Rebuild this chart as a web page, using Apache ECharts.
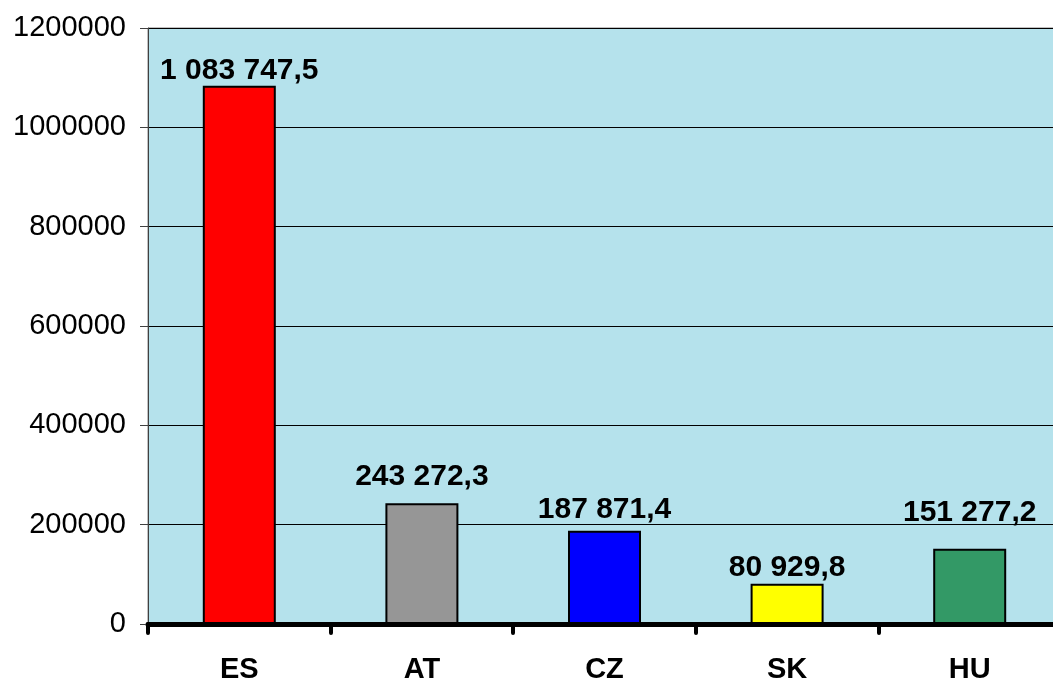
<!DOCTYPE html>
<html>
<head>
<meta charset="utf-8">
<script src="https://cdn.jsdelivr.net/npm/echarts@6/dist/echarts.min.js"></script>
<style>
  html, body { margin: 0; padding: 0; background: #fff; }
  #char { width: 1053px; height: 680px; }
</style>
</head>
<body>
<div id="char"></div>
<script>
var countries = ['ES', 'AT', 'CZ', 'SK', 'HU']
var values = [1083747.5, 243272.3, 187871.4, 80929.8, 151277.2]
var barColors = ['#ff0000', '#969696', '#0000ff', '#ffff00', '#339966']
var yTicks = [0, 200000, 400000, 600000, 800000, 1000000, 1200000]
// labels were placed by hand in the original, so gaps differ a bit
var labelGaps = [0, 11, 6, 1, 21]

// 1 083 747,5 style
function fmt(v) {
  var parts = v.toFixed(1).split('.')
  return parts[0].replace(/\B(?=(\d{3})+(?!\d))/g, ' ') + ',' + parts[1]
}

var myChart = echarts.init(document.getElementById('char'))

var option = {
  animation: false,
  grid: {
    show: true,
    left: 148,
    top: 28,
    width: 913,
    height: 596,
    outerBoundsMode: 'none',
    containLabel: false,
    backgroundColor: '#b5e2ec',
    borderColor: '#808080',
    borderWidth: 1
  },
  xAxis: {
    type: 'category',
    data: countries,
    axisLine: { lineStyle: { color: '#000', width: 5 } },
    axisTick: {
      show: true,
      length: 9,
      lineStyle: { color: '#000', width: 4, cap: 'round' }
    },
    axisLabel: {
      color: '#000',
      fontFamily: 'Liberation Sans, Arial',
      fontWeight: 'bold',
      fontSize: 29,
      margin: 31
    }
  },
  yAxis: {
    type: 'value',
    min: yTicks[0],
    max: yTicks[yTicks.length - 1],
    interval: yTicks[1] - yTicks[0],
    axisLine: { show: true, lineStyle: { color: '#404040', width: 1 } },
    axisTick: { show: true, length: 8, lineStyle: { color: '#404040' } },
    axisLabel: {
      color: '#000',
      fontFamily: 'Liberation Sans, Arial',
      fontSize: 29,
      margin: 22,
      formatter: function (v) { return String(v) }
    },
    splitLine: { show: true, lineStyle: { color: '#000', width: 1 } }
  },
  series: [
    {
      type: 'bar',
      barWidth: 73,
      data: values.map(function (v, i) {
        return {
          value: v,
          itemStyle: { color: barColors[i] },
          label: { distance: labelGaps[i] }
        }
      }),
      itemStyle: { borderColor: '#000', borderWidth: 2 },
      label: {
        show: true,
        position: 'top',
        color: '#000',
        fontFamily: 'Liberation Sans, Arial',
        fontWeight: 'bold',
        fontSize: 30,
        formatter: function (p) { return fmt(p.value) }
      }
    }
  ]
}

myChart.setOption(option)
</script>
</body>
</html>
